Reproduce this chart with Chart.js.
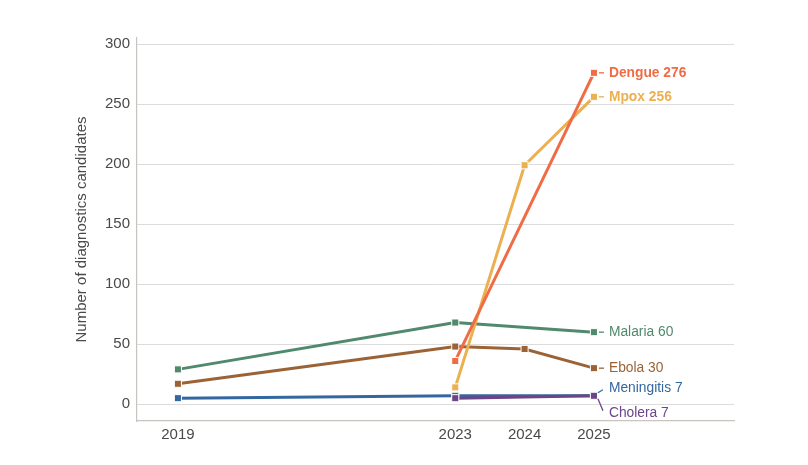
<!DOCTYPE html>
<html>
<head>
<meta charset="UTF-8">
<title>Diagnostics candidates</title>
<script src="https://cdn.jsdelivr.net/npm/chart.js@4"></script>
<style>
  body { margin: 0; background: #fff; }
  #wrap { width: 808px; height: 465px; }
</style>
</head>
<body>
<div id="wrap"><canvas id="myChart"></canvas></div>
<script>
// data
const years = [2019, 2023, 2024, 2025];
const yTicks = [0, 50, 100, 150, 200, 250, 300];
const seriesNames = ['Dengue', 'Mpox', 'Cholera', 'Meningitis', 'Malaria', 'Ebola'];
const dengue     = [null, 36, null, 276];
const mpox       = [null, 14, 199, 256];
const cholera    = [null, 5, null, 7];
const meningitis = [5, 7, null, 7];
const malaria    = [29, 68, null, 60];
const ebola      = [17, 48, 46, 30];

const seriesValues = [dengue, mpox, cholera, meningitis, malaria, ebola];
const colors = ['#ef6c45', '#ebb04f', '#6d4586', '#34679f', '#50896b', '#9b6335'];
const boldLabel = [true, true, false, false, false, false];
const labelDy = [0, 0, 17, -8, 0, 0];

const FONT = '"Liberation Sans", Arial, sans-serif';

const datasets = seriesNames.map((name, i) => ({
  label: name,
  data: years.map((yr, j) => ({ x: yr, y: seriesValues[i][j] })).filter(p => p.y !== null),
  borderColor: colors[i],
  backgroundColor: colors[i],
  borderWidth: 3,
  pointStyle: 'rect',
  pointRadius: 5,
  pointBorderColor: '#fff',
  pointBorderWidth: 1,
  tension: 0
}));

// end-of-line labels with short leader lines
const endLabels = {
  id: 'endLabels',
  afterDatasetsDraw(chart) {
    const ctx = chart.ctx;
    chart.data.datasets.forEach((ds, i) => {
      const meta = chart.getDatasetMeta(i);
      const pt = meta.data[meta.data.length - 1];
      const last = ds.data[ds.data.length - 1];
      const x = pt.x, y = pt.y, dy = labelDy[i];
      ctx.save();
      ctx.strokeStyle = colors[i];
      ctx.lineWidth = 1.3;
      ctx.beginPath();
      if (dy === 0) {
        ctx.moveTo(x + 5, y);
        ctx.lineTo(x + 10, y);
      } else {
        const s = Math.sign(dy);
        ctx.moveTo(x + 4, y + s * 3);
        ctx.lineTo(x + 9, y + dy - s * 2);
      }
      ctx.stroke();
      ctx.fillStyle = colors[i];
      ctx.font = (boldLabel[i] ? 'bold ' : '') + '13.8px ' + FONT;
      ctx.textBaseline = 'middle';
      ctx.textAlign = 'left';
      ctx.fillText(ds.label + ' ' + last.y, x + 15, y + dy);
      ctx.restore();
    });
  }
};

const ctx = document.getElementById('myChart').getContext('2d');
new Chart(ctx, {
  type: 'line',
  data: { datasets: datasets },
  options: {
    responsive: true,
    maintainAspectRatio: false,
    animation: false,
    spanGaps: true,
    layout: { padding: { left: 70, right: 74, top: 38, bottom: 0 } },
    plugins: {
      legend: { display: false },
      tooltip: { enabled: false }
    },
    scales: {
      x: {
        type: 'linear',
        min: 2018.41,
        max: 2027.02,
        afterBuildTicks: axis => { axis.ticks = years.map(v => ({ value: v })); },
        afterFit: axis => { axis.height = 44; },
        grid: { display: false, drawTicks: false },
        border: { display: true, color: '#c8c4c0', width: 1.2 },
        ticks: {
          padding: 5,
          color: '#4a4a4a',
          font: { family: FONT, size: 15 },
          callback: v => String(v)
        }
      },
      y: {
        min: -14,
        max: 305,
        afterBuildTicks: axis => { axis.ticks = yTicks.map(v => ({ value: v })); },
        afterFit: axis => { axis.width = 67; },
        grid: { color: '#dcdcdc', lineWidth: 1, drawTicks: false },
        border: { display: true, color: '#c8c4c0', width: 1.2 },
        ticks: {
          padding: 7,
          color: '#4a4a4a',
          font: { family: FONT, size: 15 }
        },
        title: {
          display: true,
          text: 'Number of diagnostics candidates',
          color: '#4a4a4a',
          padding: { top: 3, bottom: 4 },
          font: { family: FONT, size: 15 }
        }
      }
    }
  },
  plugins: [endLabels]
});
</script>
</body>
</html>
